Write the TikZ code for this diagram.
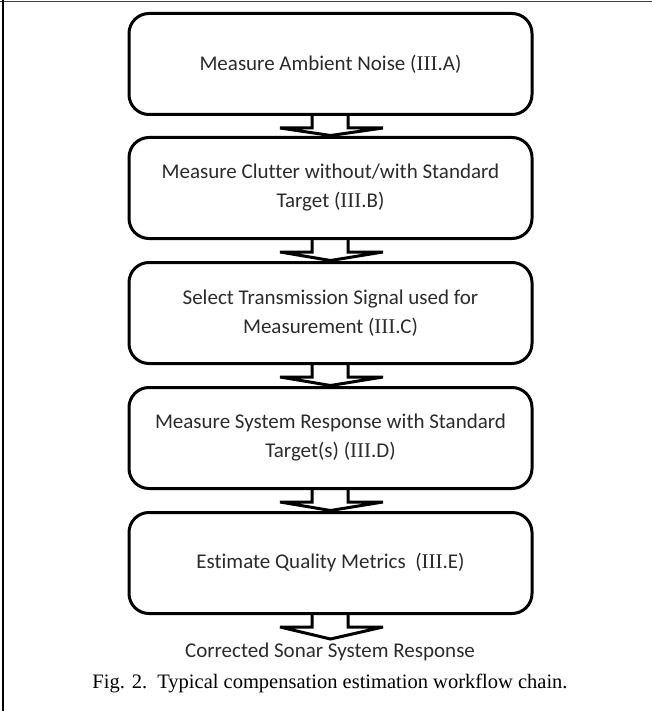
\documentclass[tikz,border=0pt]{standalone}
\usepackage{fontspec}
\setmainfont[Ligatures=NoCommon]{Carlito}
\newfontfamily\capfont{Liberation Serif}
\usetikzlibrary{calc}
\definecolor{txt}{HTML}{2B2B2B}
\newcommand\rom[1]{{\capfont #1}}
\tikzset{
  boxnode/.style={draw=black, line width=3pt, rounded corners=20pt, anchor=north,
    minimum width=403pt, minimum height=101pt, align=center, text=txt,
    font=\fontsize{21}{29}\selectfont, inner sep=0pt},
  arrowline/.style={draw=black, line width=3pt, line join=miter, miter limit=2},
  plaintext/.style={text=txt, font=\fontsize{21}{26}\selectfont, inner sep=0pt},
  captext/.style={text=black, font=\capfont\fontsize{20.5}{24}\selectfont, inner sep=0pt}
}
\newcommand\blockarrow[2]{%
  \draw[arrowline] ($(#1.south)+(-18.5,0)$) -- ++(0,12) -- ++(-32,0) -- (#2)
    -- ($(#1.south)+(52.5,12)$) -- ++(-35,0) -- ($(#1.south)+(17.5,0)$);}
\begin{document}
\begin{tikzpicture}[x=1pt,y=-1pt]
\useasboundingbox (0,0) rectangle (652,711);
\draw[line width=1.2pt, black!75] (0,1.2) -- (652,1.2);
\draw[line width=2.6pt, black] (3,0) -- (3,711);

\node[boxnode] (b1) at (330.5,12) {Measure Ambient Noise (\rom{III}.A)};
\node[boxnode] (b2) at (330.5,136) {Measure Clutter without/with Standard\\Target (\rom{III}.B)};
\node[boxnode] (b3) at (330.5,261) {Select Transmission Signal used for\\Measurement (\rom{III}.C)};
\node[boxnode] (b4) at (330.5,386) {Measure System Response with Standard\\Target(s) (\rom{III}.D)};
\node[boxnode] (b5) at (330.5,511) {Estimate Quality Metrics\ \ (\rom{III}.E)};

\coordinate (t2) at ($(b2.north)+(0,-0.5)$);
\coordinate (t3) at ($(b3.north)+(0,-0.5)$);
\coordinate (t4) at ($(b4.north)+(0,-0.5)$);
\coordinate (t5) at ($(b5.north)+(0,-0.5)$);
\coordinate (t6) at ($(b5.south)+(0,24)$);

\blockarrow{b1}{t2}
\blockarrow{b2}{t3}
\blockarrow{b3}{t4}
\blockarrow{b4}{t5}
\blockarrow{b5}{t6}

\node[plaintext] (out) at (330,652) {Corrected Sonar System Response};
\node[captext] (cap) at (330,683) {Fig. 2.\ \ Typical compensation estimation workflow chain.};
\end{tikzpicture}
\end{document}
